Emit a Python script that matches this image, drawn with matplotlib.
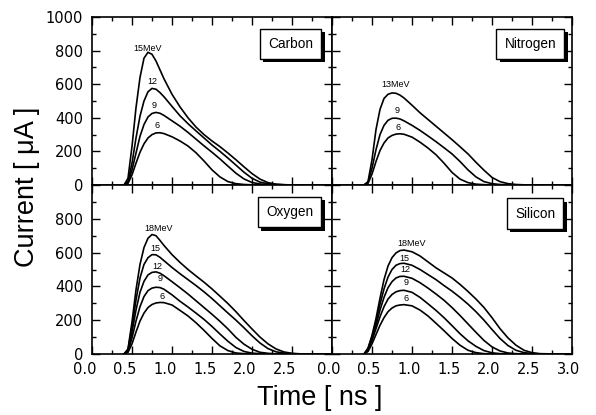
import matplotlib
matplotlib.use("Agg")
import matplotlib.pyplot as plt
import matplotlib.patheffects as pe
from matplotlib.ticker import MultipleLocator
from matplotlib.transforms import ScaledTranslation

# time grid [ns] shared by every curve
t = [0.40, 0.45, 0.50, 0.55, 0.60, 0.65, 0.70, 0.75, 0.80, 0.85, 0.90,
     1.00, 1.10, 1.20, 1.30, 1.40, 1.50, 1.60, 1.70, 1.80, 1.90, 2.00,
     2.10, 2.20, 2.30, 2.40, 2.50, 2.60, 2.80, 3.00]

# currents [uA], one list per energy
carbon_15 = [0, 40, 230, 460, 640, 755, 790, 778, 738, 685, 632, 540, 465, 400, 345,
             300, 262, 228, 190, 150, 108, 68, 35, 14, 5, 2, 0, 0, 0, 0]
carbon_12 = [0, 20, 130, 280, 410, 500, 555, 575, 570, 550, 525, 468, 412, 365, 322,
             280, 238, 200, 160, 118, 76, 40, 17, 7, 3, 1, 0, 0, 0, 0]
carbon_9 = [0, 15, 90, 190, 290, 360, 405, 426, 432, 427, 414, 382, 350, 313, 273,
            233, 195, 155, 112, 70, 36, 15, 6, 2, 0, 0, 0, 0, 0, 0]
carbon_6 = [0, 10, 60, 130, 195, 245, 280, 300, 310, 311, 306, 287, 262, 232, 192,
            143, 90, 48, 20, 8, 3, 1, 0, 0, 0, 0, 0, 0, 0, 0]

nitrogen_13 = [0, 20, 150, 330, 450, 515, 540, 548, 546, 535, 518, 475, 430, 390, 350,
               310, 270, 228, 185, 135, 88, 45, 20, 8, 3, 1, 0, 0, 0, 0]
nitrogen_9 = [0, 15, 100, 210, 300, 355, 385, 397, 398, 393, 382, 355, 325, 292, 258,
              222, 185, 140, 90, 48, 20, 8, 3, 1, 0, 0, 0, 0, 0, 0]
nitrogen_6 = [0, 10, 65, 140, 205, 250, 280, 295, 303, 305, 302, 285, 255, 220, 180,
              130, 75, 35, 14, 5, 2, 0, 0, 0, 0, 0, 0, 0, 0, 0]

oxygen_18 = [0, 30, 190, 380, 530, 630, 685, 707, 700, 672, 642, 588, 542, 500, 462,
             425, 385, 342, 298, 250, 198, 148, 100, 60, 30, 12, 4, 1, 0, 0]
oxygen_15 = [0, 25, 160, 320, 450, 530, 570, 588, 587, 572, 552, 512, 475, 440, 405,
             368, 328, 285, 242, 200, 155, 108, 65, 32, 13, 5, 2, 0, 0, 0]
oxygen_12 = [0, 20, 130, 260, 365, 430, 468, 483, 486, 478, 463, 428, 392, 355, 315,
             275, 235, 193, 148, 98, 58, 28, 10, 4, 1, 0, 0, 0, 0, 0]
oxygen_9 = [0, 15, 95, 195, 280, 340, 375, 390, 395, 393, 383, 350, 312, 278, 242,
            205, 163, 118, 75, 38, 15, 5, 2, 0, 0, 0, 0, 0, 0, 0]
oxygen_6 = [0, 10, 60, 130, 195, 242, 275, 293, 302, 305, 304, 290, 258, 225, 185,
            140, 92, 48, 20, 6, 2, 0, 0, 0, 0, 0, 0, 0, 0, 0]

silicon_18 = [0, 35, 110, 210, 330, 440, 520, 570, 598, 612, 615, 605, 580, 545, 510,
              480, 450, 412, 370, 325, 275, 215, 150, 95, 52, 22, 8, 2, 0, 0]
silicon_15 = [0, 30, 100, 190, 295, 385, 455, 500, 525, 535, 537, 525, 500, 470, 440,
              405, 372, 335, 295, 250, 200, 145, 92, 50, 22, 8, 3, 0, 0, 0]
silicon_12 = [0, 25, 90, 170, 260, 335, 392, 428, 450, 459, 460, 448, 422, 390, 355,
              318, 275, 228, 178, 128, 80, 42, 18, 6, 2, 0, 0, 0, 0, 0]
silicon_9 = [0, 20, 80, 150, 220, 280, 325, 352, 368, 375, 377, 365, 335, 297, 258,
             215, 168, 120, 78, 45, 20, 7, 2, 0, 0, 0, 0, 0, 0, 0]
silicon_6 = [0, 15, 60, 115, 170, 215, 250, 272, 285, 290, 292, 285, 260, 225, 182,
             138, 92, 52, 22, 8, 2, 0, 0, 0, 0, 0, 0, 0, 0, 0]

# curve labels: text, x [ns], y [uA]
carbon_labels = [("15MeV", 0.70, 815), ("12", 0.75, 619), ("9", 0.78, 476), ("6", 0.81, 357)]
nitrogen_labels = [("13MeV", 0.79, 600), ("9", 0.81, 446), ("6", 0.82, 343)]
oxygen_labels = [("18MeV", 0.83, 742), ("15", 0.79, 625), ("12", 0.82, 520),
                 ("9", 0.85, 444), ("6", 0.88, 341)]
silicon_labels = [("18MeV", 1.00, 653), ("15", 0.90, 565), ("12", 0.92, 500),
                  ("9", 0.925, 421), ("6", 0.925, 327)]

x_ticks = [0.0, 0.5, 1.0, 1.5, 2.0, 2.5, 3.0]
x_labels_left = ["0.0", "0.5", "1.0", "1.5", "2.0", "2.5", ""]
x_labels_right = ["0.0", "0.5", "1.0", "1.5", "2.0", "2.5", "3.0"]
y_ticks = [0, 200, 400, 600, 800, 1000]
y_labels_top = ["0", "200", "400", "600", "800", "1000"]
y_labels_bottom = ["0", "200", "400", "600", "800", ""]

fig = plt.figure(figsize=(5.96, 4.15), dpi=100)
W, H = 596, 415


def panel(x0, y0, x1, y1):
    return fig.add_axes([x0 / W, 1 - y1 / H, (x1 - x0) / W, (y1 - y0) / H])


ax_c = panel(92, 17, 332, 185)
ax_n = panel(332, 17, 572, 185)
ax_o = panel(92, 185, 332, 354)
ax_s = panel(332, 185, 572, 354)

panels = [
    (ax_c, "Carbon", [carbon_15, carbon_12, carbon_9, carbon_6], carbon_labels, 0.962, 0.94),
    (ax_n, "Nitrogen", [nitrogen_13, nitrogen_9, nitrogen_6], nitrogen_labels, 0.975, 0.94),
    (ax_o, "Oxygen", [oxygen_18, oxygen_15, oxygen_12, oxygen_9, oxygen_6], oxygen_labels, 0.962, 0.94),
    (ax_s, "Silicon", [silicon_18, silicon_15, silicon_12, silicon_9, silicon_6], silicon_labels, 0.97, 0.93),
]

for ax, name, curves, labels, bx, by in panels:
    for c in curves:
        ax.plot(t, c, color="black", lw=1.2)
    for txt, lx, ly in labels:
        ax.text(lx, ly, txt, fontsize=6.5, family="Liberation Sans", ha="center", va="center")
    ann = ax.annotate(name, xy=(bx, by), xycoords="axes fraction", xytext=(-7, -7),
                      textcoords="offset points", ha="right", va="top",
                      fontsize=9.8, family="Liberation Sans",
                      bbox=dict(boxstyle="square,pad=0.6", fc="white", ec="black", lw=1.0))
    ann.get_bbox_patch().set_path_effects([
        pe.SimplePatchShadow(offset=(2.5, -2.5), shadow_rgbFace="black", alpha=1.0),
        pe.Normal()])

    ax.set_xlim(0, 3.0)
    ax.set_ylim(0, 1000)
    ax.xaxis.set_minor_locator(MultipleLocator(0.25))
    ax.yaxis.set_minor_locator(MultipleLocator(100))
    ax.tick_params(which="both", direction="in", top=True, right=True, width=1.0)
    ax.tick_params(which="major", length=6)
    ax.tick_params(which="minor", length=3)
    ax.tick_params(axis="y", pad=6.5, labelsize=10.5)
    ax.tick_params(axis="x", pad=6, labelsize=10.5)
    for s in ax.spines.values():
        s.set_linewidth(1.2)
    ax.set_xticks(x_ticks)
    ax.set_yticks(y_ticks)

ax_c.set_yticklabels(y_labels_top)
ax_o.set_yticklabels(y_labels_bottom)
ax_n.set_yticklabels([])
ax_s.set_yticklabels([])
ax_c.set_xticklabels([])
ax_n.set_xticklabels([])
ax_o.set_xticklabels(x_labels_left)
ax_s.set_xticklabels(x_labels_right)

# the scanned left-hand labels sit a little left of their ticks
shift = ScaledTranslation(-7 / 100, 0, fig.dpi_scale_trans)
for lab in ax_o.get_xticklabels():
    lab.set_transform(lab.get_transform() + shift)
shift_r = ScaledTranslation(-3 / 100, 0, fig.dpi_scale_trans)
for lab in ax_s.get_xticklabels():
    lab.set_transform(lab.get_transform() + shift_r)

fig.text(27 / W, 1 - 187 / H, "Current [ μA ]", rotation=90, ha="center", va="center",
         fontsize=19.5, family="Liberation Sans")
fig.text(320 / W, 1 - 398 / H, "Time [ ns ]", ha="center", va="center",
         fontsize=19.5, family="Liberation Sans")

fig.savefig("out.png", dpi=100)
